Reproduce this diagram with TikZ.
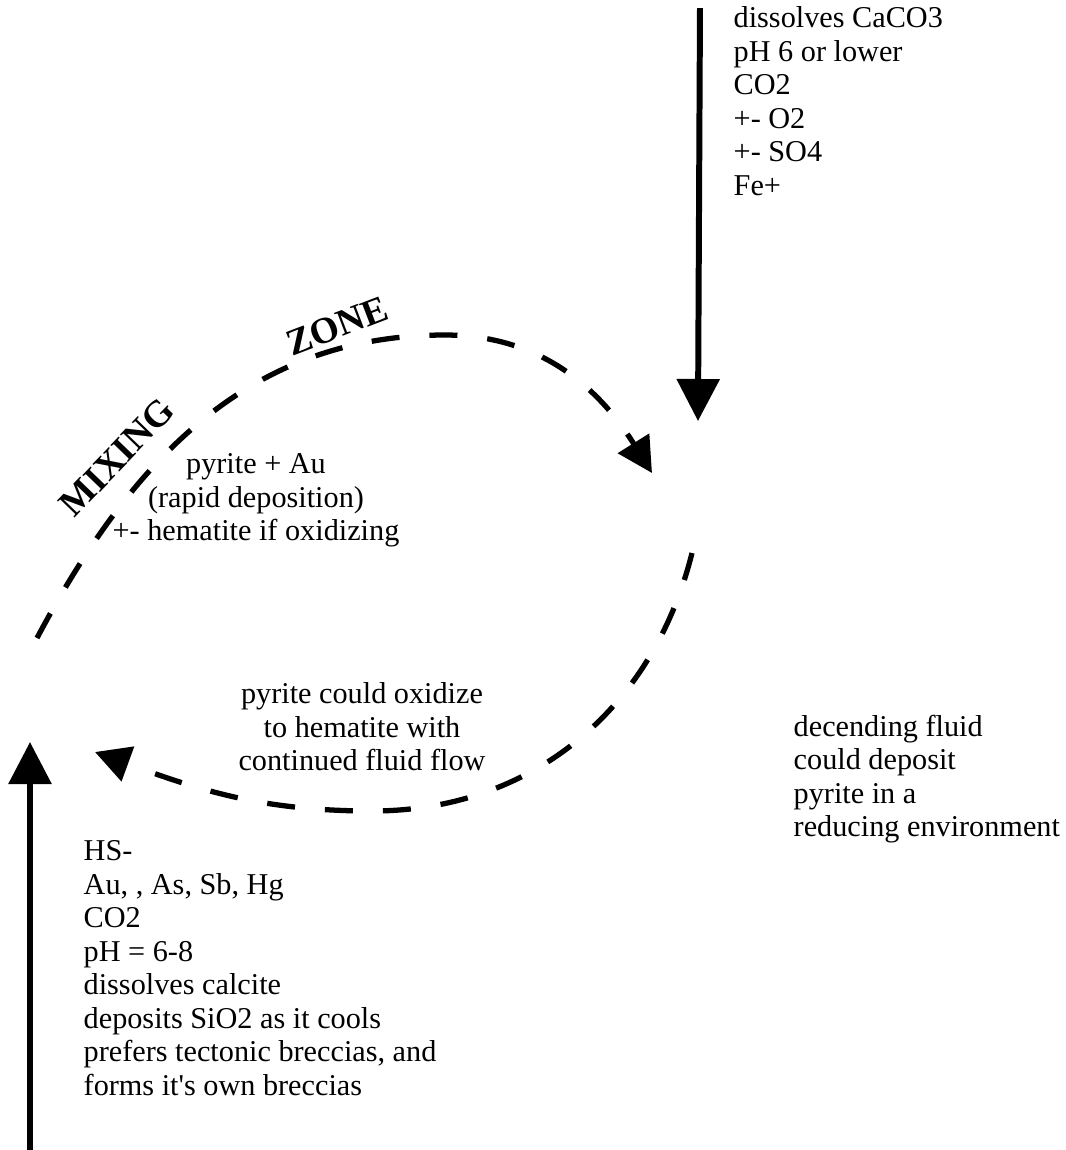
\documentclass[tikz,border=0pt]{standalone}
\usepackage{fontspec}
\setmainfont{Liberation Serif}
\usetikzlibrary{arrows.meta}

\begin{document}
\begin{tikzpicture}[x=0.01cm,y=0.01cm]
	\newcommand{\notefont}{\fontsize{8.6pt}{9.53pt}\selectfont}
	\newcommand{\zonefont}{\fontsize{10.6pt}{12pt}\selectfont\bfseries}
	\tikzset{
		flow/.style={line width=1.7pt,-{Triangle[width=0.42cm,length=0.42cm]}},
		mixflow/.style={line width=1.5pt,dash pattern=on 0.28cm off 0.3cm,-{Triangle[width=0.36cm,length=0.35cm]}},
		note/.style={inner sep=0pt,font=\notefont},
		zonelabel/.style={inner sep=0pt,font=\zonefont}
	}

		\useasboundingbox (0,0) rectangle (1066,-1150);

		% end points of the flows
		\coordinate (descTop) at (700,-8);
		\coordinate (descTip) at (698,-421);
		\coordinate (riseBase) at (30,-1150);
		\coordinate (riseTip) at (30,-742);
		\coordinate (mixStart) at (37,-638);
		\coordinate (mixPeak) at (445,-335);
		\coordinate (mixEnd) at (652,-473);
		\coordinate (backStart) at (692,-553);
		\coordinate (backLow) at (372,-811);
		\coordinate (backEnd) at (95,-752);

		\draw[flow] (descTop) -- (descTip);
		\draw[flow] (riseBase) -- (riseTip);
		\draw[mixflow] (mixStart) to[out=62,in=180] (mixPeak) to[out=0,in=122] (mixEnd);
		\draw[mixflow] (backStart) to[out=-104,in=0] (backLow) to[out=180,in=-20] (backEnd);

		% texts
		\node[note,anchor=north west,align=left] (descNote) at (733,-6)
			{dissolves CaCO3\\pH 6 or lower\\CO2\\+- O2\\+- SO4\\Fe+};
		\node[note,anchor=north west,align=left] (riseNote) at (83,-840)
			{HS-\\Au, , As, Sb, Hg\\CO2\\pH = 6-8\\dissolves calcite\\deposits SiO2 as it cools\\prefers tectonic breccias, and\\forms it\textquotesingle s own breccias};
		\node[note,anchor=north west,align=left] (reduceNote) at (793,-714)
			{decending fluid\\could deposit\\pyrite in a\\reducing environment};
		\node[note,anchor=north,align=center] (mixNote) at (256,-453)
			{pyrite + Au\\(rapid deposition)\\+- hematite if oxidizing};
		\node[note,anchor=north,align=center] (oxNote) at (362,-682)
			{pyrite could oxidize\\to hematite with\\continued fluid flow};
		\node[zonelabel,rotate=46] (mixLabel) at (117,-457) {MIXING};
		\node[zonelabel,rotate=21] (zoneLabel) at (337,-326) {ZONE};
\end{tikzpicture}
\end{document}
